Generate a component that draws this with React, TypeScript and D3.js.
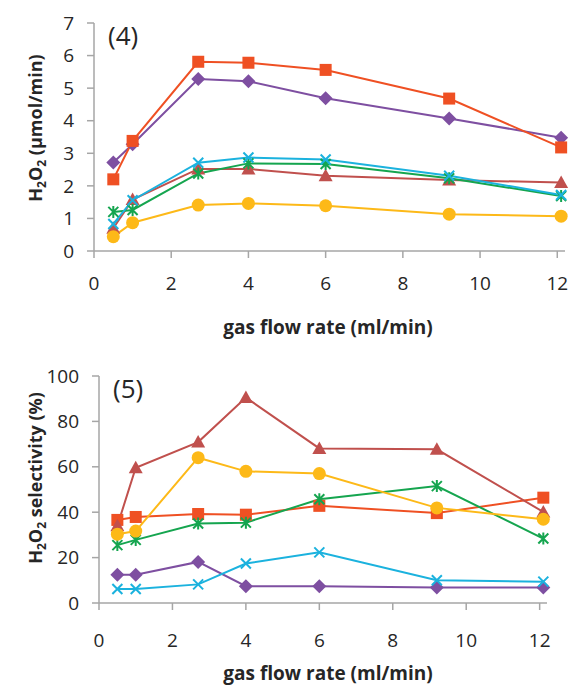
import React from 'react';
import * as d3 from 'd3';

// gas flow rates (ml/min)
const flowRates = [0.5, 1, 2.7, 4, 6, 9.2, 12.1];
const xTicks = [0, 2, 4, 6, 8, 10, 12];

// panel (4): H2O2 production rate (umol/min)
const rateSquare = [2.2, 3.38, 5.81, 5.78, 5.56, 4.68, 3.18];
const rateDiamond = [2.72, 3.28, 5.28, 5.21, 4.69, 4.07, 3.48];
const rateTriangle = [0.7, 1.58, 2.52, 2.52, 2.31, 2.18, 2.1];
const rateStar = [1.2, 1.26, 2.38, 2.69, 2.67, 2.23, 1.69];
const rateCross = [0.83, 1.56, 2.71, 2.87, 2.81, 2.31, 1.72];
const rateCircle = [0.44, 0.87, 1.41, 1.46, 1.39, 1.13, 1.07];
const rateTicks = [0, 1, 2, 3, 4, 5, 6, 7];

// panel (5): H2O2 selectivity (%)
const selSquare = [36.6, 37.9, 39.2, 38.9, 42.8, 39.6, 46.4];
const selDiamond = [12.5, 12.5, 18.1, 7.4, 7.4, 6.8, 6.8];
const selTriangle = [34, 59.6, 70.9, 90.5, 68.1, 67.7, 40.1];
const selStar = [25.5, 27.8, 35.0, 35.4, 45.7, 51.5, 28.4];
const selCross = [6.2, 6.2, 8.2, 17.4, 22.3, 10.0, 9.4];
const selCircle = [30.3, 31.7, 64.0, 58.0, 57.0, 41.9, 36.9];
const selTicks = [0, 20, 40, 60, 80, 100];

const colors = {
  square: '#EF5023',
  diamond: '#7E4FA1',
  triangle: '#C0504D',
  star: '#15A54F',
  cross: '#1BB2DE',
  circle: '#FDB918',
};

const FONT = '"Open Sans", Lato, sans-serif';
const AXIS = '#A6A6A6';

type Series = { marker: keyof typeof colors; values: number[] };

const Marker = ({ type, x, y }: { type: string; x: number; y: number }) => {
  const c = (colors as any)[type];
  if (type === 'square') return <rect x={x - 6} y={y - 6} width={12} height={12} fill={c} />;
  if (type === 'diamond') return <path d={`M${x},${y - 7}L${x + 7},${y}L${x},${y + 7}L${x - 7},${y}Z`} fill={c} />;
  if (type === 'triangle') return <path d={`M${x},${y - 7}L${x + 7},${y + 5.5}L${x - 7},${y + 5.5}Z`} fill={c} />;
  if (type === 'circle') return <circle cx={x} cy={y} r={6.5} fill={c} />;
  if (type === 'cross')
    return <path d={`M${x - 5},${y - 5}L${x + 5},${y + 5}M${x - 5},${y + 5}L${x + 5},${y - 5}`} stroke={c} strokeWidth={2} />;
  // star: x plus vertical bar
  return (
    <path
      d={`M${x - 5},${y - 5}L${x + 5},${y + 5}M${x - 5},${y + 5}L${x + 5},${y - 5}M${x},${y - 6}L${x},${y + 6}`}
      stroke={c}
      strokeWidth={2}
    />
  );
};

const Panel = ({
  top, left, right, bottom, yMax, yTicks, series, tag, yLabel, tickLabelY, titleY, yLabelY,
}: any) => {
  const x = d3.scaleLinear().domain([0, 12.2]).range([left, right]);
  const y = d3.scaleLinear().domain([0, yMax]).range([bottom, top]);
  const line = d3.line<number>().x((_, i) => x(flowRates[i])).y((d) => y(d));
  return (
    <g fontFamily={FONT}>
      <line x1={left} x2={left} y1={top} y2={bottom} stroke={AXIS} strokeWidth={1.5} />
      <line x1={left} x2={right} y1={bottom} y2={bottom} stroke={AXIS} strokeWidth={1.5} />
      {yTicks.map((t: number) => (
        <g key={'y' + t}>
          <line x1={left - 7} x2={left} y1={y(t)} y2={y(t)} stroke={AXIS} strokeWidth={1.5} />
          <text x={left - 20} y={y(t)} dy="0.35em" textAnchor="end" fontSize={19} fill="#262626">{t}</text>
        </g>
      ))}
      {xTicks.map((t) => (
        <g key={'x' + t}>
          <line x1={x(t)} x2={x(t)} y1={bottom} y2={bottom + 7} stroke={AXIS} strokeWidth={1.5} />
          <text x={x(t)} y={tickLabelY} dy="0.35em" textAnchor="middle" fontSize={19} fill="#262626">{t}</text>
        </g>
      ))}
      {series.map((s: Series) => (
        <path key={'l' + s.marker} d={line(s.values) || ''} fill="none" stroke={colors[s.marker]} strokeWidth={2} />
      ))}
      {series.map((s: Series) => (
        <g key={'m' + s.marker}>
          {s.values.map((v, i) => (
            <Marker key={i} type={s.marker} x={x(flowRates[i])} y={y(v)} />
          ))}
        </g>
      ))}
      <text x={left + 14} y={top + 13} dy="0.35em" fontSize={26} fill="#262626">{tag}</text>
      <text x={328} y={titleY} dy="0.35em" textAnchor="middle" fontSize={19} fontWeight="bold" fill="#262626">
        gas flow rate (ml/min)
      </text>
      <text
        transform={`translate(36,${yLabelY}) rotate(-90)`}
        dy="0.35em"
        textAnchor="middle"
        fontSize={18}
        fontWeight="bold"
        fill="#262626"
      >
        {yLabel}
      </text>
    </g>
  );
};

const App = () => {
  const topSeries: Series[] = [
    { marker: 'diamond', values: rateDiamond },
    { marker: 'square', values: rateSquare },
    { marker: 'triangle', values: rateTriangle },
    { marker: 'star', values: rateStar },
    { marker: 'cross', values: rateCross },
    { marker: 'circle', values: rateCircle },
  ];
  const bottomSeries: Series[] = [
    { marker: 'diamond', values: selDiamond },
    { marker: 'square', values: selSquare },
    { marker: 'triangle', values: selTriangle },
    { marker: 'star', values: selStar },
    { marker: 'cross', values: selCross },
    { marker: 'circle', values: selCircle },
  ];
  return (
    <svg width={573} height={686} style={{ position: 'absolute', left: 0, top: 0, background: '#fff' }}>
      <Panel
        top={23} bottom={251} left={94} right={565} yMax={7} yTicks={rateTicks}
        series={topSeries} tag="(4)" tickLabelY={283} titleY={327} yLabelY={128}
        yLabel={<>H<tspan fontSize={12} dy={4}>2</tspan><tspan dy={-4}>O</tspan><tspan fontSize={12} dy={4}>2</tspan><tspan dy={-4}> (µmol/min)</tspan></>}
      />
      <Panel
        top={376} bottom={603} left={99} right={547} yMax={100} yTicks={selTicks}
        series={bottomSeries} tag="(5)" tickLabelY={640} titleY={673} yLabelY={478}
        yLabel={<>H<tspan fontSize={12} dy={4}>2</tspan><tspan dy={-4}>O</tspan><tspan fontSize={12} dy={4}>2</tspan><tspan dy={-4}> selectivity (%)</tspan></>}
      />
    </svg>
  );
};

export default App;
